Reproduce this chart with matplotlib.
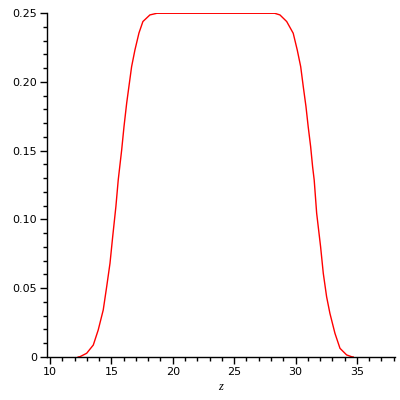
import matplotlib.pyplot as plt
from matplotlib.ticker import MultipleLocator

# curve
z = [12.3, 12.44, 12.99, 13.53, 13.93, 14.34, 14.62, 14.89, 15.11, 15.37,
     15.56, 15.84, 16.03, 16.25, 16.43, 16.65, 16.92, 17.25, 17.57, 18.14,
     18.71, 28.3, 28.73, 29.28, 29.81, 30.14, 30.42, 30.63, 30.85, 31.03,
     31.23, 31.39, 31.52, 31.72, 32.04, 32.26, 32.53, 32.80, 33.21, 33.62,
     34.16, 34.57, 34.7]
y = [0.0, 0.0002, 0.0027, 0.0087, 0.0196, 0.0342, 0.0511, 0.0681, 0.0875, 0.1093,
     0.1286, 0.1504, 0.1674, 0.1846, 0.1965, 0.2110, 0.2231, 0.2355, 0.2438, 0.2486,
     0.2498, 0.2498, 0.2486, 0.2438, 0.2353, 0.2231, 0.2110, 0.1965, 0.1820, 0.1674,
     0.1529, 0.1383, 0.1286, 0.1045, 0.0802, 0.0608, 0.0438, 0.0317, 0.0172, 0.0063,
     0.0015, 0.0002, 0.0]

x_ticks = [10, 15, 20, 25, 30, 35]
y_ticks = [0, 0.05, 0.10, 0.15, 0.20, 0.25]
y_labels = ["0", "0.05", "0.10", "0.15", "0.20", "0.25"]

fig = plt.figure(figsize=(4, 4), dpi=100)
ax = fig.add_axes([0.1175, 0.1075, 0.87, 0.86])
ax.plot(z, y, color="red", linewidth=1.0)

ax.set_xlim(9.76, 38.1)
ax.set_ylim(0, 0.25)
ax.set_xticks(x_ticks)
ax.set_yticks(y_ticks)
ax.set_yticklabels(y_labels)
ax.xaxis.set_minor_locator(MultipleLocator(1))
ax.yaxis.set_minor_locator(MultipleLocator(0.01))

for s in ["top", "right"]:
    ax.spines[s].set_visible(False)
ax.spines["left"].set_linewidth(1.0)
ax.spines["bottom"].set_linewidth(1.0)
ax.tick_params(which="major", length=5, width=1, labelsize=8, pad=2)
ax.tick_params(which="minor", length=3, width=1)

ax.set_xlabel("z", fontsize=9, fontstyle="italic", family="Liberation Serif", labelpad=3)

fig.savefig("out.png", dpi=100)
